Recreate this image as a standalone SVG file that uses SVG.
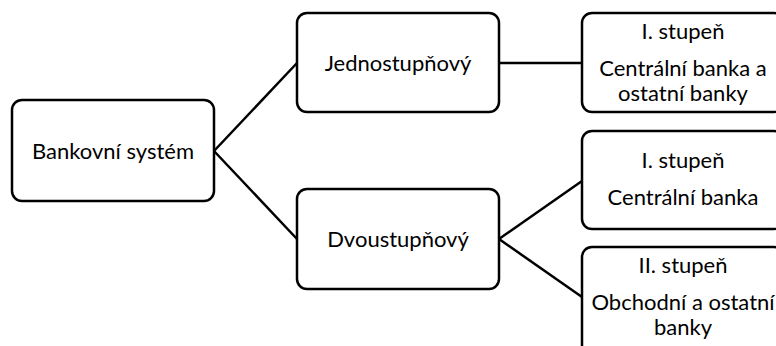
<svg xmlns="http://www.w3.org/2000/svg" width="776" height="346" viewBox="0 0 776 346">
<style>
.box{fill:#fff;stroke:#000;stroke-width:2.5}
.t{font-family:Lato,"Open Sans",sans-serif;font-size:22px;fill:#000;text-anchor:middle}
.c{stroke:#000;stroke-width:2.5;fill:none}
</style>
<rect width="776" height="346" fill="#fff"/>
<g id="connectors">
<line class="c" x1="214" y1="151" x2="297" y2="63"/>
<line class="c" x1="214" y1="151" x2="297" y2="239"/>
<line class="c" x1="499" y1="63" x2="582" y2="63"/>
<line class="c" x1="499" y1="239" x2="582" y2="181"/>
<line class="c" x1="499" y1="239" x2="582" y2="297"/>
</g>
<g id="bankovni-system">
<rect class="box" x="12" y="100" width="202" height="101" rx="10"/>
<text class="t" x="113" y="159">Bankovní systém</text>
</g>
<g id="jednostupnovy">
<rect class="box" x="297" y="13" width="202" height="99" rx="10"/>
<text class="t" x="398" y="71">Jednostupňový</text>
</g>
<g id="dvoustupnovy">
<rect class="box" x="297" y="189" width="202" height="100" rx="10"/>
<text class="t" x="398" y="247">Dvoustupňový</text>
</g>
<g id="jedno-stupen">
<rect class="box" x="582" y="13" width="202" height="99" rx="10"/>
<text class="t" x="683" y="39">I. stupeň</text>
<text class="t" x="683" y="76">Centrální banka a</text>
<text class="t" x="683" y="101">ostatní banky</text>
</g>
<g id="dvou-stupen-1">
<rect class="box" x="582" y="131" width="202" height="98" rx="10"/>
<text class="t" x="683" y="168">I. stupeň</text>
<text class="t" x="683" y="205">Centrální banka</text>
</g>
<g id="dvou-stupen-2">
<rect class="box" x="582" y="247" width="202" height="110" rx="10"/>
<text class="t" x="683" y="273">II. stupeň</text>
<text class="t" x="683" y="310">Obchodní a ostatní</text>
<text class="t" x="683" y="335">banky</text>
</g>
</svg>
